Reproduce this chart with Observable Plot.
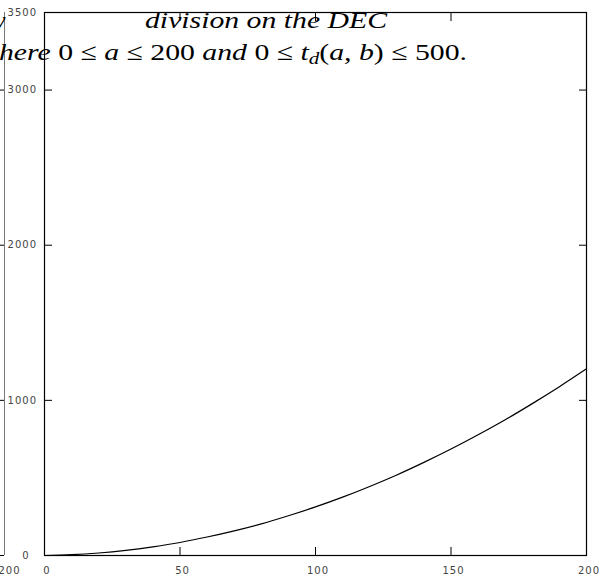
<!DOCTYPE html>
<html><head><meta charset="utf-8">
<script src="https://cdn.jsdelivr.net/npm/d3@7"></script>
<script src="https://cdn.jsdelivr.net/npm/@observablehq/plot@0.6"></script>
<style>
body{margin:0;background:#fff;}
#chart{position:relative;width:607px;height:578px;overflow:hidden;}
#chart g[aria-label$="tick label"]{font-family:"DejaVu Sans",sans-serif;font-size:10px;letter-spacing:1px;}
#chart g[aria-label$="tick label"] text{font-variant:normal;}
#chart .caption text{font-family:"Liberation Serif",serif;font-size:24px;letter-spacing:0;text-anchor:start;}
</style></head><body><div id="chart"></div>
<script>
// data
const xValues = [0,10,20,30,40,50,60,70,80,90,100,110,120,130,140,150,160,170,180,190,200];
const yValues = [0,5,16,33,56,84,119,159,204,256,313,376,445,519,600,686,778,875,979,1088,1203];
const xTicks = [0,50,100,150,200];
const yTicks = [0,1000,2000,3000,3500];
const neighborTicks = [0,1000,2000,3000];
const neighborLabel = "200";

const data = xValues.map((x, i) => ({a: x, t: yValues[i]}));
const labelColor = "#444";

const plot = Plot.plot({
  width: 607, height: 578,
  marginLeft: 44, marginRight: 21, marginTop: 12, marginBottom: 23,
  style: {background: "#fff", color: "#000"},
  x: {domain: [0, 200], label: null},
  y: {domain: [0, 3500], label: null},
  marks: [
    // neighbouring panel fragment at the far left
    Plot.ruleX([0], {dx: -40, stroke: "#777", strokeWidth: 1}),
    Plot.axisY({ticks: neighborTicks, anchor: "left", tickSize: 4, dx: -40, fill: "none", label: null}),
    Plot.axisX({ticks: [0], anchor: "bottom", tickSize: 0, tickPadding: 11, dx: -35, fill: labelColor, label: null, tickFormat: () => neighborLabel}),
    // main frame and inward ticks
    Plot.frame({stroke: "#000", strokeWidth: 1.2}),
    Plot.axisX({ticks: xTicks, anchor: "bottom", tickSize: -8, fill: "none", label: null}),
    Plot.axisX({ticks: xTicks, anchor: "top", tickSize: -8, fill: "none", label: null}),
    Plot.axisY({ticks: yTicks, anchor: "left", tickSize: -8, fill: "none", label: null}),
    Plot.axisY({ticks: yTicks, anchor: "right", tickSize: -8, fill: "none", label: null}),
    // tick labels
    Plot.axisX({ticks: xTicks, anchor: "bottom", tickSize: 0, tickPadding: 11, dx: 2.5, fill: labelColor, label: null, tickFormat: d => String(d)}),
    Plot.axisY({ticks: yTicks.filter(d => d > 0), anchor: "left", tickSize: 0, tickPadding: 7.5, fill: labelColor, label: null, tickFormat: d => String(d)}),
    Plot.axisY({ticks: [0], anchor: "left", tickSize: 0, tickPadding: 15, fill: labelColor, label: null, tickFormat: d => String(d)}),
    // curve
    Plot.line(data, {x: "a", y: "t", stroke: "#000", strokeWidth: 1.2, curve: "monotone-x"})
  ]
});

// overlapping caption text from the source page
const svg = d3.select(plot);
const g = svg.append("g").attr("class", "caption").attr("fill", "#000");

g.append("text").attr("x", 5.5).attr("y", 28).style("text-anchor", "end")
  .attr("font-style", "italic").text("y");

g.append("text").attr("x", 145).attr("y", 28.3)
  .attr("textLength", 242).attr("lengthAdjust", "spacingAndGlyphs")
  .attr("font-style", "italic").text("division on the DEC");

const t2 = g.append("text").attr("x", -1).attr("y", 59.5)
  .attr("textLength", 468).attr("lengthAdjust", "spacingAndGlyphs");
const parts = [
  ["here", true], [" 0 \u2264 ", false], ["a", true], [" \u2264 200 ", false],
  ["and", true], [" 0 \u2264 ", false], ["t", true]
];
parts.forEach(([s, it]) => t2.append("tspan").attr("font-style", it ? "italic" : "normal").text(s));
t2.append("tspan").attr("font-style", "italic").attr("font-size", 17).attr("dy", 4).text("d");
t2.append("tspan").attr("dy", -4).text("(");
t2.append("tspan").attr("font-style", "italic").text("a, b");
t2.append("tspan").text(") \u2264 500.");

document.getElementById("chart").appendChild(plot);
</script>
</body></html>
